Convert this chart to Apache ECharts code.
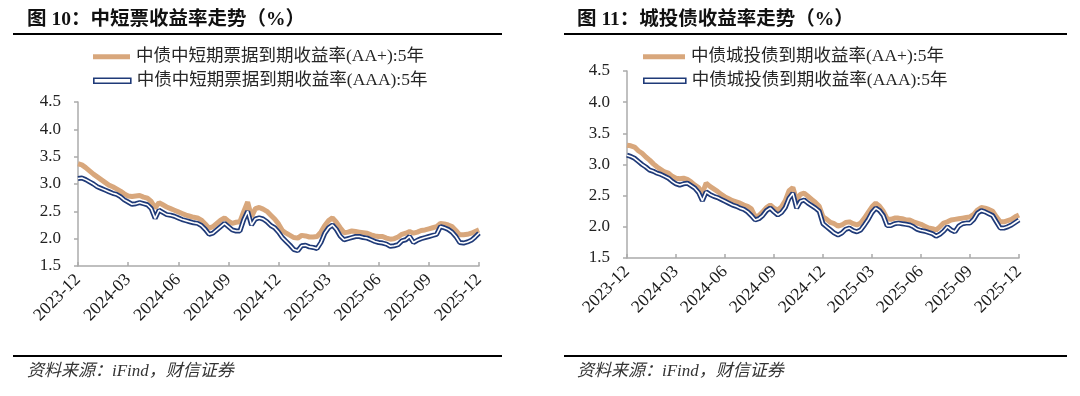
<!DOCTYPE html>
<html><head><meta charset="utf-8">
<script src="https://cdn.jsdelivr.net/npm/echarts@6/dist/echarts.min.js"></script>
<style>html,body{margin:0;padding:0;background:#fff}#c{width:1080px;height:396px}</style>
</head><body><div id="c"></div>
<script>
// ---- data ----
const startDate = [2023, 11, 4]; // weekly observations from 2023-12-04 to 2025-12-01
const tickLabels = ['2023-12','2024-03','2024-06','2024-09','2024-12','2025-03','2025-06','2025-09','2025-12'];
const yTicks = [1.5, 2.0, 2.5, 3.0, 3.5, 4.0, 4.5];

const nameMtnAAplus = '中债中短期票据到期收益率(AA+):5年';
const nameMtnAAA = '中债中短期票据到期收益率(AAA):5年';
const nameLgfvAAplus = '中债城投债到期收益率(AA+):5年';
const nameLgfvAAA = '中债城投债到期收益率(AAA):5年';

const mtnAAplus = [3.37,3.35,3.30,3.24,3.18,3.13,3.08,3.03,2.98,2.95,2.91,2.87,2.82,2.78,2.77,2.78,2.79,2.76,2.74,2.68,
2.56,2.66,2.62,2.58,2.55,2.52,2.49,2.46,2.43,2.41,2.39,2.38,2.34,2.27,2.19,2.22,2.28,2.34,2.38,2.32,
2.28,2.30,2.31,2.50,2.67,2.40,2.55,2.57,2.54,2.50,2.43,2.36,2.27,2.15,2.10,2.06,2.02,2.01,2.06,2.05,
2.03,2.03,2.04,2.12,2.24,2.33,2.38,2.30,2.20,2.11,2.12,2.14,2.13,2.12,2.11,2.10,2.07,2.05,2.04,2.04,
2.01,1.99,2.00,2.03,2.08,2.10,2.13,2.10,2.12,2.15,2.16,2.18,2.20,2.22,2.28,2.27,2.25,2.22,2.15,2.07,
2.07,2.08,2.10,2.13,2.16];
const mtnAAA = [3.10,3.11,3.08,3.04,3.00,2.95,2.92,2.89,2.86,2.83,2.81,2.77,2.71,2.67,2.63,2.64,2.66,2.64,2.62,2.55,
2.37,2.52,2.48,2.44,2.43,2.41,2.38,2.35,2.33,2.31,2.29,2.28,2.24,2.17,2.08,2.10,2.16,2.22,2.28,2.22,
2.16,2.14,2.14,2.35,2.50,2.25,2.36,2.38,2.36,2.31,2.24,2.20,2.12,2.02,1.95,1.88,1.80,1.78,1.87,1.88,
1.85,1.84,1.82,1.93,2.10,2.20,2.25,2.17,2.05,1.98,2.00,2.02,2.04,2.04,2.02,2.01,1.98,1.95,1.93,1.92,
1.90,1.86,1.87,1.89,1.96,1.98,2.04,1.93,1.97,2.00,2.02,2.04,2.06,2.08,2.22,2.20,2.17,2.12,2.04,1.93,
1.92,1.94,1.97,2.03,2.10];
const lgfvAAplus = [3.31,3.30,3.28,3.22,3.18,3.12,3.07,3.01,2.96,2.92,2.88,2.86,2.81,2.78,2.77,2.78,2.76,2.72,2.67,2.63,
2.54,2.70,2.65,2.61,2.57,2.52,2.48,2.45,2.42,2.40,2.38,2.35,2.33,2.29,2.16,2.18,2.24,2.31,2.35,2.30,
2.27,2.32,2.42,2.58,2.63,2.43,2.52,2.54,2.49,2.44,2.39,2.33,2.16,2.12,2.07,2.05,2.01,2.03,2.07,2.08,
2.05,2.03,2.06,2.14,2.23,2.32,2.38,2.33,2.25,2.13,2.12,2.14,2.14,2.13,2.11,2.11,2.08,2.06,2.04,2.01,
1.98,1.97,1.95,2.00,2.06,2.08,2.11,2.12,2.13,2.14,2.15,2.16,2.20,2.27,2.31,2.30,2.28,2.25,2.16,2.08,
2.08,2.10,2.12,2.16,2.19];
const lgfvAAA = [3.15,3.13,3.10,3.05,3.00,2.96,2.91,2.89,2.86,2.84,2.81,2.78,2.73,2.69,2.67,2.69,2.70,2.66,2.62,2.55,
2.42,2.56,2.52,2.49,2.47,2.44,2.41,2.38,2.35,2.33,2.30,2.28,2.24,2.18,2.11,2.13,2.18,2.26,2.30,2.24,
2.19,2.23,2.31,2.46,2.54,2.30,2.41,2.43,2.38,2.34,2.30,2.25,2.05,2.00,1.95,1.90,1.87,1.90,1.96,1.98,
1.94,1.92,1.95,2.03,2.12,2.23,2.30,2.26,2.18,2.02,2.02,2.05,2.06,2.05,2.04,2.03,2.00,1.96,1.94,1.93,
1.91,1.89,1.85,1.88,1.93,2.00,1.95,1.92,2.01,2.05,2.06,2.06,2.12,2.22,2.26,2.24,2.21,2.18,2.08,1.98,
1.98,2.00,2.03,2.07,2.11];

// weekly date categories
const dates = [];
{
  let t = Date.UTC(startDate[0], startDate[1], startDate[2]);
  for (let i = 0; i < mtnAAA.length; i++) { dates.push(new Date(t).toISOString().slice(0, 10)); t += 7 * 86400000; }
}

// ---- styles ----
const TAN = '#D8A77C';
const NAVY = '#1F3A78';
const AXIS = '#ABABAB';
const SERIF = "'Liberation Serif','Noto Sans CJK SC',serif";
const isQuarterTick = (i) => {
  const m = dates[i].slice(0, 7);
  return tickLabels.includes(m) && (i === 0 || dates[i - 1].slice(0, 7) !== m);
};

function xAxisFor(gi) {
  return {
    type: 'category', gridIndex: gi, data: dates, boundaryGap: false,
    axisLine: { lineStyle: { color: AXIS, width: 1.5 } },
    axisTick: { inside: true, length: 4, lineStyle: { color: AXIS, width: 1.5 }, interval: (i) => isQuarterTick(i) },
    axisLabel: { interval: (i) => isQuarterTick(i), formatter: (v) => v.slice(0, 7), rotate: 45, margin: 11,
      fontFamily: SERIF, fontSize: 17.5, color: '#1a1a1a' },
    splitLine: { show: false }
  };
}
function yAxisFor(gi) {
  return {
    type: 'value', gridIndex: gi, min: yTicks[0], max: yTicks[yTicks.length - 1], interval: 0.5,
    axisLine: { show: true, lineStyle: { color: AXIS, width: 1.5 } },
    axisTick: { show: true, length: 4, lineStyle: { color: AXIS, width: 1.5 } },
    axisLabel: { formatter: (v) => v.toFixed(1), margin: 17, fontFamily: SERIF, fontSize: 17, color: '#222' },
    splitLine: { show: false }
  };
}
function seriesFor(gi, name, data, kind) {
  const base = { type: 'line', xAxisIndex: gi, yAxisIndex: gi, data: data, symbol: 'none', silent: true, animation: false };
  if (kind === 'tan') return [Object.assign({}, base, { name: name, z: 2, itemStyle: { color: TAN }, lineStyle: { color: TAN, width: 5 } })];
  return [
    Object.assign({}, base, { name: name, z: 3, itemStyle: { color: NAVY }, lineStyle: { color: NAVY, width: 5 } }),
    Object.assign({}, base, { name: name + ' ', z: 4, itemStyle: { color: '#fff' }, lineStyle: { color: '#ffffff', width: 1.6 } })
  ];
}
function legendFor(left, top, name, kind, iconW) {
  const item = kind === 'tan'
    ? { name: name, icon: 'rect', itemStyle: { color: TAN, borderWidth: 0 } }
    : { name: name, icon: 'rect', itemStyle: { color: '#ffffff', borderColor: NAVY, borderWidth: 1.6 } };
  return { left: left, top: top, orient: 'vertical', data: [item], itemWidth: iconW, itemHeight: 5, itemGap: 0,
    selectedMode: false, padding: 0, textStyle: { fontFamily: SERIF, fontSize: 17.5, color: '#262626', padding: [0, 0, 0, 1] } };
}
const titleStyle = { fontFamily: SERIF, fontSize: 19.5, fontWeight: 'bold', color: '#111' };
const footStyle = { fontFamily: SERIF, fontSize: 17, fontStyle: 'italic', fontWeight: 'normal', color: '#333' };

const chart = echarts.init(document.getElementById('c'), null, { renderer: 'canvas' });
chart.setOption({
  animation: false,
  backgroundColor: '#fff',
  title: [
    { text: '图 10：中短票收益率走势（%）', left: 27, top: 10, padding: 0, textStyle: titleStyle },
    { text: '图 11：城投债收益率走势（%）', left: 577, top: 10, padding: 0, textStyle: titleStyle },
    { text: '资料来源：iFind，财信证券', left: 27, top: 363, padding: 0, textStyle: footStyle },
    { text: '资料来源：iFind，财信证券', left: 577, top: 363, padding: 0, textStyle: footStyle }
  ],
  legend: [
    legendFor(93, 48, nameMtnAAplus, 'tan', 37),
    legendFor(93, 72, nameMtnAAA, 'navy', 37),
    legendFor(643, 48, nameLgfvAAplus, 'tan', 42),
    legendFor(643, 72, nameLgfvAAA, 'navy', 42)
  ],
  grid: [
    { left: 78, right: 1080 - 479, top: 102, bottom: 396 - 266 },
    { left: 627, right: 1080 - 1019, top: 71, bottom: 396 - 258 }
  ],
  xAxis: [xAxisFor(0), xAxisFor(1)],
  yAxis: [yAxisFor(0), yAxisFor(1)],
  series: [].concat(
    seriesFor(0, nameMtnAAplus, mtnAAplus, 'tan'),
    seriesFor(0, nameMtnAAA, mtnAAA, 'navy'),
    seriesFor(1, nameLgfvAAplus, lgfvAAplus, 'tan'),
    seriesFor(1, nameLgfvAAA, lgfvAAA, 'navy')
  ),
  graphic: [
    { type: 'line', silent: true, shape: { x1: 13, y1: 34, x2: 502, y2: 34 }, style: { stroke: '#000', lineWidth: 2 } },
    { type: 'line', silent: true, shape: { x1: 564, y1: 34, x2: 1067, y2: 34 }, style: { stroke: '#000', lineWidth: 2 } },
    { type: 'line', silent: true, shape: { x1: 13, y1: 356, x2: 502, y2: 356 }, style: { stroke: '#000', lineWidth: 2 } },
    { type: 'line', silent: true, shape: { x1: 564, y1: 356, x2: 1067, y2: 356 }, style: { stroke: '#000', lineWidth: 2 } }
  ]
});
</script>
</body></html>
